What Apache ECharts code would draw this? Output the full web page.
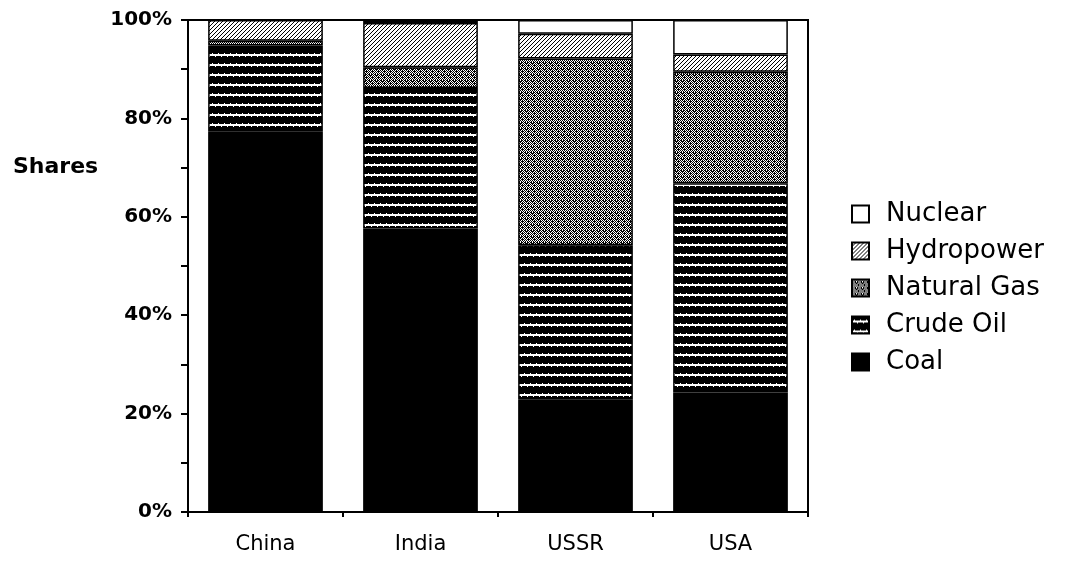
<!DOCTYPE html>
<html>
<head>
<meta charset="utf-8">
<script src="https://cdn.jsdelivr.net/npm/echarts@6/dist/echarts.min.js"></script>
<style>
html,body{margin:0;padding:0;background:#fff;}
#chart{width:1068px;height:567px;}
</style>
</head>
<body>
<div id="chart"></div>
<script>
// ---- data ----
const categories = ['China', 'India', 'USSR', 'USA'];
const coal       = [77.3, 57.6, 22.8, 24.3];
const crudeOil   = [17.5, 28.6, 31.4, 42.5];
const naturalGas = [1.0, 4.2, 38.0, 22.7];
const hydropower = [4.2, 9.0, 5.0, 3.5];
const nuclear    = [0.0, 0.6, 2.8, 7.0];
const legendOrder = ['Nuclear', 'Hydropower', 'Natural Gas', 'Crude Oil', 'Coal'];
const yTicks = [0, 20, 40, 60, 80, 100];

const FONT = '"DejaVu Sans", "Liberation Sans", Arial, sans-serif';

// ---- fill patterns ----
function makePattern(w, h, draw) {
  const c = document.createElement('canvas');
  c.width = w; c.height = h;
  const ctx = c.getContext('2d');
  draw(ctx, w, h);
  return { image: c, repeat: 'repeat' };
}
const oilFill = makePattern(6, 10, (ctx, w, h) => {
  ctx.fillStyle = '#000'; ctx.fillRect(0, 0, w, h);
  ctx.fillStyle = '#fff'; ctx.fillRect(0, 4, w, 2);
  ctx.fillRect(2, 3, 1, 1); ctx.fillRect(5, 6, 1, 1);
});
const gasFill = makePattern(6, 6, (ctx, w, h) => {
  ctx.fillStyle = '#fff'; ctx.fillRect(0, 0, w, h);
  ctx.fillStyle = '#000';
  const px = [[0,0],[2,0],[4,0],[1,1],[3,1],[5,1],[0,2],[2,2],[5,2],[1,3],[3,3],[4,3],[0,4],[2,4],[4,4],[1,5],[3,5],[5,5],[3,2],[5,3],[0,5]];
  px.forEach(p => ctx.fillRect(p[0], p[1], 1, 1));
});
const hydroFill = makePattern(4, 4, (ctx, w, h) => {
  ctx.fillStyle = '#fff'; ctx.fillRect(0, 0, w, h);
  ctx.fillStyle = '#000';
  for (let i = 0; i < 4; i++) { ctx.fillRect(i, 3 - i, 1, 1); }
});

const base = {
  type: 'bar', stack: 'total', barCategoryGap: '26%',
  itemStyle: { borderColor: '#000', borderWidth: 1.5 },
  emphasis: { disabled: true }
};
function mk(name, data, color) {
  return Object.assign({}, base, { name, data, itemStyle: Object.assign({}, base.itemStyle, { color }) });
}

const chart = echarts.init(document.getElementById('chart'));
chart.setOption({
  animation: false,
  backgroundColor: '#fff',
  textStyle: { fontFamily: FONT, color: '#000' },
  title: {
    text: 'Shares', left: 8, top: 151,
    textStyle: { fontFamily: FONT, fontWeight: 'bold', fontSize: 22, color: '#000' }
  },
  legend: {
    orient: 'vertical', left: 846, top: 196,
    itemWidth: 17, itemHeight: 17, itemGap: 11,
    data: legendOrder.map(n => ({ name: n, icon: 'rect' })),
    textStyle: { fontSize: 26, lineHeight: 26, color: '#000', fontFamily: FONT, padding: [0, 0, 0, 12] },
    selectedMode: false
  },
  grid: {
    left: 188, right: 260, top: 20, bottom: 55,
    show: true, borderColor: '#000', borderWidth: 2, backgroundColor: 'transparent'
  },
  xAxis: {
    type: 'category', data: categories,
    axisLine: { lineStyle: { color: '#000', width: 2 } },
    axisTick: { show: true, length: 5, lineStyle: { color: '#000', width: 2 } },
    axisLabel: { color: '#000', fontSize: 21, fontFamily: FONT, margin: 22 },
    splitLine: { show: false }
  },
  yAxis: {
    type: 'value', min: 0, max: 100, interval: 10,
    axisLine: { show: true, lineStyle: { color: '#000', width: 2 } },
    axisTick: { show: true, length: 7, lineStyle: { color: '#000', width: 2 } },
    axisLabel: {
      color: '#000', fontSize: 20, fontWeight: 'bold', fontFamily: FONT, margin: 16,
      formatter: v => (yTicks.indexOf(v) >= 0 ? v + '%' : '')
    },
    splitLine: { show: false }
  },
  series: [
    mk('Coal', coal, '#000'),
    mk('Crude Oil', crudeOil, oilFill),
    mk('Natural Gas', naturalGas, gasFill),
    mk('Hydropower', hydropower, hydroFill),
    mk('Nuclear', nuclear, '#fff')
  ]
});
</script>
</body>
</html>
